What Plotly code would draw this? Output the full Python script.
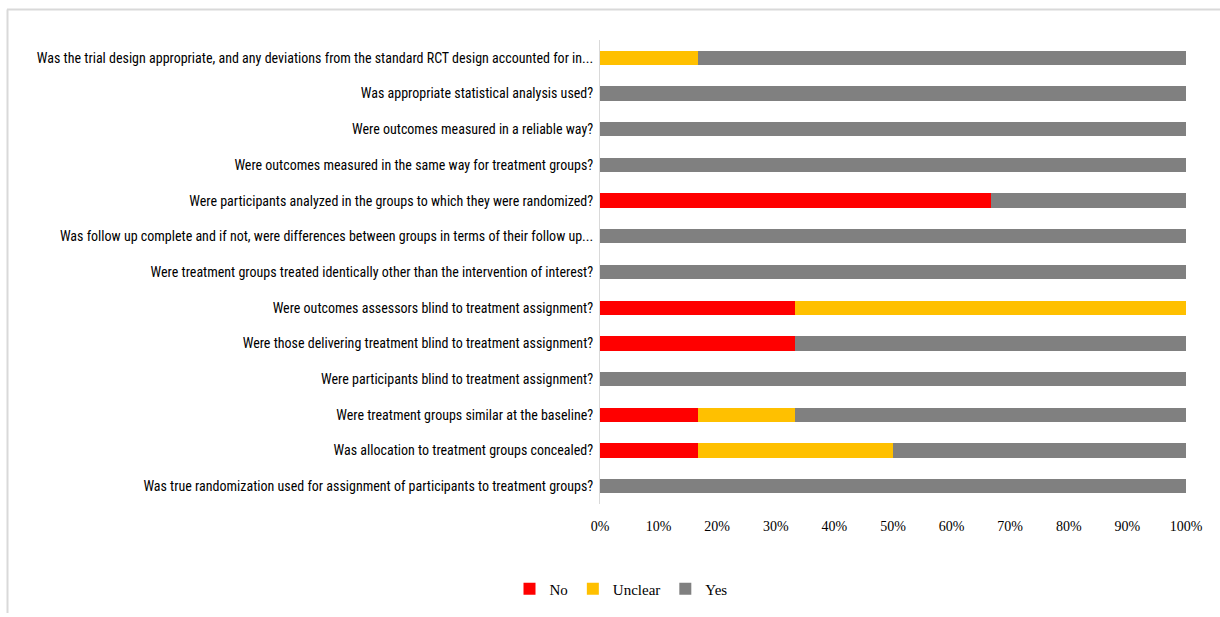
import plotly.graph_objects as go

categories = [
    "Was the trial design appropriate, and any deviations from the standard RCT design accounted for in...",
    "Was appropriate statistical analysis used?",
    "Were outcomes measured in a reliable way?",
    "Were outcomes measured in the same way for treatment groups?",
    "Were participants analyzed in the groups to which they were randomized?",
    "Was follow up complete and if not, were differences between groups in terms of their follow up...",
    "Were treatment groups treated identically other than the intervention of interest?",
    "Were outcomes assessors blind to treatment assignment?",
    "Were those delivering treatment blind to treatment assignment?",
    "Were participants blind to treatment assignment?",
    "Were treatment groups similar at the baseline?",
    "Was allocation to treatment groups concealed?",
    "Was true randomization used for assignment of participants to treatment groups?",
]
no_vals = [0, 0, 0, 0, 66.67, 0, 0, 33.33, 33.33, 0, 16.67, 16.67, 0]
unclear_vals = [16.67, 0, 0, 0, 0, 0, 0, 66.67, 0, 0, 16.67, 33.33, 0]
yes_vals = [83.33, 100, 100, 100, 33.33, 100, 100, 0, 66.67, 100, 66.67, 50.0, 100]
tick_vals = [0, 10, 20, 30, 40, 50, 60, 70, 80, 90, 100]
tick_text = [f"{v}%" for v in tick_vals]

W, H = 1220, 617
L, R, T, B = 600, 34, 40, 113
pw, ph = W - L - R, H - T - B

def px(x):
    return (x - L) / pw

def py(y):
    return (H - B - y) / ph

fig = go.Figure()
for name, vals, col in [("No", no_vals, "#FF0000"),
                        ("Unclear", unclear_vals, "#FFC000"),
                        ("Yes", yes_vals, "#808080")]:
    fig.add_trace(go.Bar(y=categories, x=vals, name=name, orientation="h",
                         marker=dict(color=col, line=dict(width=0)),
                         width=0.4, hoverinfo="x+y+name"))

fig.update_layout(
    barmode="stack",
    width=W, height=H,
    margin=dict(l=L, r=R, t=T, b=B, autoexpand=False),
    paper_bgcolor="white", plot_bgcolor="white",
    showlegend=True,
    legend=dict(orientation="h", x=px(621), y=py(589), xanchor="center", yanchor="middle",
                traceorder="normal",
                font=dict(family="Liberation Serif", size=15, color="#000000"),
                itemwidth=30, tracegroupgap=0),
    xaxis=dict(range=[0, 100], tickmode="array", tickvals=tick_vals, ticktext=tick_text,
               showgrid=False, zeroline=False, showline=False, ticks="",
               tickfont=dict(family="Liberation Serif", size=14, color="#000000"),
               ticklabelstandoff=12, fixedrange=True),
    yaxis=dict(autorange="reversed", showgrid=False, zeroline=False,
               showline=True, linecolor="#D9D9D9", linewidth=1, ticks="",
               tickfont=dict(family="Liberation Sans Narrow, Roboto Condensed, Liberation Sans",
                             size=14, color="#000000"),
               ticklabelstandoff=3, fixedrange=True),
    shapes=[
        dict(type="line", xref="paper", yref="paper", x0=px(7), x1=px(1225),
             y0=py(9.5), y1=py(9.5), line=dict(color="#D9D9D9", width=2)),
        dict(type="line", xref="paper", yref="paper", x0=px(7.5), x1=px(7.5),
             y0=py(9.5), y1=py(613), line=dict(color="#D9D9D9", width=2)),
    ],
)

fig.write_html("out.html")
